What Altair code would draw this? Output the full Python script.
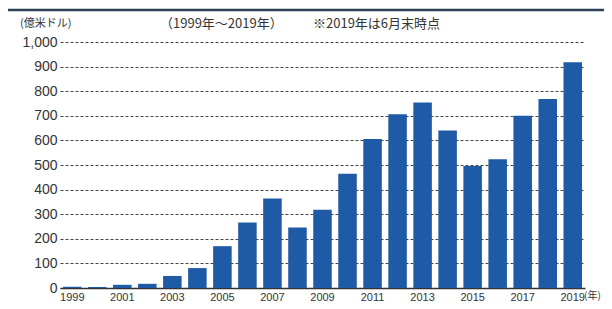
import altair as alt
import pandas as pd

years = ["1999", "2000", "2001", "2002", "2003", "2004", "2005", "2006", "2007",
         "2008", "2009", "2010", "2011", "2012", "2013", "2014", "2015", "2016",
         "2017", "2018", "2019"]
values = [5, 4, 13, 17, 49, 81, 170, 266, 364, 246, 318, 464, 606, 706, 754,
          640, 496, 523, 700, 768, 918]
y_ticks = [0, 100, 200, 300, 400, 500, 600, 700, 800, 900, 1000]
unit_label = "(億米ドル)"
period_label = "（1999年～2019年）"
note_label = "※2019年は6月末時点"
year_suffix = "(年)"

df = pd.DataFrame({"year": years, "value": values})

NUM_FONT = "Liberation Sans Narrow, Arial Narrow, Liberation Sans, sans-serif"
JP_FONT = "Noto Sans CJK JP"

bars = alt.Chart(df).mark_bar(color="#1f5aa6").encode(
    x=alt.X("year:N", sort=years,
            scale=alt.Scale(paddingInner=0.26, paddingOuter=0.12),
            axis=alt.Axis(title=None, labelAngle=0, ticks=False,
                          domain=True, domainColor="#333333", domainWidth=1.5,
                          labelExpr="toNumber(datum.value) % 2 == 1 ? datum.value : ''",
                          labelFont=NUM_FONT, labelFontSize=11, labelColor="#333333",
                          labelPadding=3, labelBaseline="top")),
    y=alt.Y("value:Q", scale=alt.Scale(domain=[0, 1000], nice=False),
            axis=alt.Axis(title=None, values=y_ticks, format=",d", domain=False,
                          ticks=False, grid=True, gridColor="#444444",
                          gridDash=[3, 2], gridWidth=1,
                          labelFont=NUM_FONT, labelFontSize=14, labelColor="#333333",
                          labelPadding=3)),
)

one = pd.DataFrame({"k": [0]})

top_rule = alt.Chart(one).mark_rule(color="#2d4256", strokeWidth=2.5).encode(
    x=alt.value(-52), x2=alt.value(560), y=alt.value(-32)
)

t_unit = alt.Chart(one).mark_text(align="left", baseline="middle", font=JP_FONT,
                                   fontSize=11, color="#333333").encode(
    x=alt.value(-40), y=alt.value(-18), text=alt.value(unit_label)
)
t_period = alt.Chart(one).mark_text(align="left", baseline="middle", font=JP_FONT,
                                     fontSize=13, color="#333333").encode(
    x=alt.value(100), y=alt.value(-18), text=alt.value(period_label)
)
t_note = alt.Chart(one).mark_text(align="left", baseline="middle", font=JP_FONT,
                                   fontSize=13, color="#333333").encode(
    x=alt.value(253), y=alt.value(-18), text=alt.value(note_label)
)
t_suffix = alt.Chart(one).mark_text(align="left", baseline="top", font=JP_FONT,
                                     fontSize=10, color="#333333").encode(
    x=alt.value(524), y=alt.value(249), text=alt.value(year_suffix)
)

chart = alt.layer(bars, top_rule, t_unit, t_period, t_note, t_suffix).properties(
    width=525, height=246,
    padding={"left": 52, "top": 34, "right": 19, "bottom": 13},
    autosize=alt.AutoSizeParams(type="none"),
).configure_view(stroke=None)

chart.save("out.html", embed_options={"renderer": "svg", "actions": False})
